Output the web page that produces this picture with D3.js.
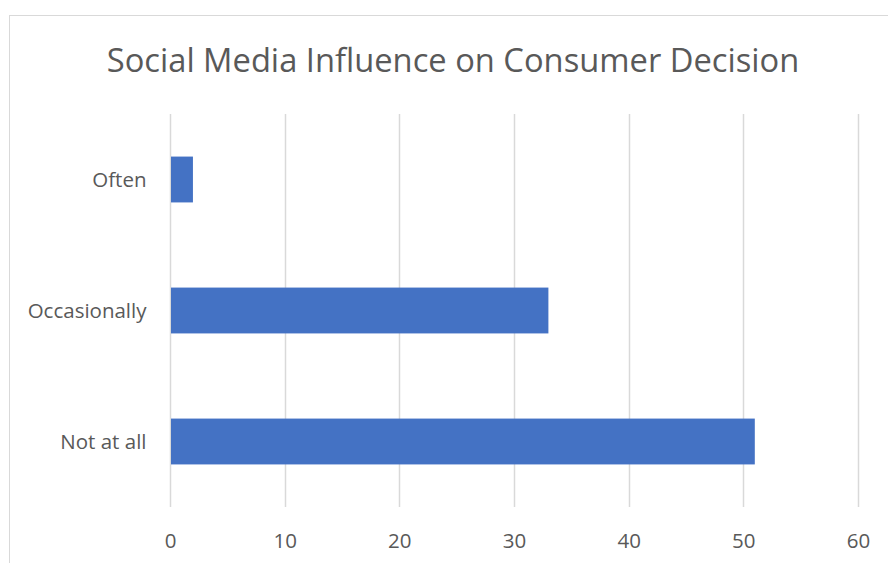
<!DOCTYPE html>
<html>
<head>
<meta charset="utf-8">
<script src="https://cdn.jsdelivr.net/npm/d3@7"></script>
<style>
  html, body { margin: 0; padding: 0; background: #fff; }
  svg { display: block; }
  text { font-family: "Open Sans", "Noto Sans", sans-serif; fill: #595959; }
</style>
</head>
<body>
<svg id="chart" width="888" height="563"></svg>
<script>
// Survey responses: how often social media influences a purchase decision
const categories = ["Often", "Occasionally", "Not at all"];
const responses = [2, 33, 51];
const xTicks = [0, 10, 20, 30, 40, 50, 60];
const title = "Social Media Influence on Consumer Decision";

const svg = d3.select("#chart");
const W = 888, H = 563;
const plot = { left: 170, right: 858, top: 114, bottom: 507 };

// chart frame (extends beyond the right and bottom edges of the view)
svg.append("rect")
  .attr("x", 9.5).attr("y", 15.5)
  .attr("width", W + 20).attr("height", H + 20)
  .attr("fill", "#fff").attr("stroke", "#d9d9d9").attr("stroke-width", 1);

const x = d3.scaleLinear().domain([0, 60]).range([plot.left, plot.right]);
const y = d3.scaleBand().domain(categories)
  .range([plot.top, plot.bottom]).paddingInner(0.65).paddingOuter(0.325);

// vertical gridlines
svg.append("g").selectAll("line").data(xTicks).join("line")
  .attr("x1", d => Math.round(x(d)) + 0.5).attr("x2", d => Math.round(x(d)) + 0.5)
  .attr("y1", plot.top).attr("y2", plot.bottom)
  .attr("stroke", "#d9d9d9").attr("stroke-width", 1.5);

// bars
svg.append("g").selectAll("rect").data(categories).join("rect")
  .attr("x", x(0) + 1)
  .attr("y", d => y(d))
  .attr("width", (d, i) => x(responses[i]) - x(0) - 1)
  .attr("height", y.bandwidth())
  .attr("fill", "#4472c4");

// x axis labels
const xAxis = d3.axisBottom(x).tickValues(xTicks).tickSize(0).tickPadding(0);
svg.append("g")
  .attr("transform", `translate(0,${plot.bottom})`)
  .call(xAxis)
  .call(g => g.select(".domain").remove())
  .call(g => g.selectAll("text")
    .attr("dy", null).attr("y", 40.5)
    .style("font-size", "20.5px")
    .style("font-family", null)
    .attr("fill", null));

// category labels
const yAxis = d3.axisLeft(y).tickSize(0).tickPadding(0);
svg.append("g")
  .attr("transform", `translate(146.5,0)`)
  .call(yAxis)
  .call(g => g.select(".domain").remove())
  .call(g => g.selectAll("text")
    .attr("dy", "0.36em")
    .style("font-size", "20.5px")
    .style("font-family", null)
    .attr("fill", null));

// title
svg.append("text")
  .attr("x", 453).attr("y", 72)
  .attr("text-anchor", "middle")
  .style("font-size", "32.7px")
  .text(title);
</script>
</body>
</html>
